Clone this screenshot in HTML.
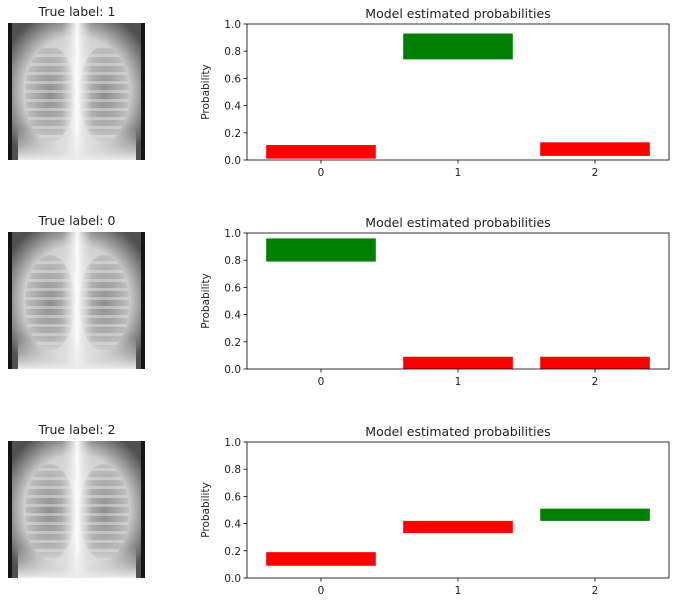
<!DOCTYPE html>
<html><head><meta charset="utf-8">
<style>
html,body{margin:0;padding:0;background:#fff;}
svg{display:block;font-family:"DejaVu Sans","Liberation Sans",sans-serif;}
</style></head>
<body>
<svg id="fig" width="675" height="602" viewBox="0 0 675 602" xmlns="http://www.w3.org/2000/svg">
<defs>
<radialGradient id="torso" cx="50%" cy="50%" r="62%">
<stop offset="0" stop-color="#f0f0f0"/><stop offset="0.65" stop-color="#d0d0d0"/><stop offset="1" stop-color="#505050"/>
</radialGradient>
<radialGradient id="lung" cx="50%" cy="50%" r="55%">
<stop offset="0" stop-color="#6a6a6a"/><stop offset="1" stop-color="#c0c0c0"/>
</radialGradient>
<linearGradient id="spine" x1="0" x2="1">
<stop offset="0" stop-color="#ddd" stop-opacity="0"/><stop offset="0.5" stop-color="#fafafa"/><stop offset="1" stop-color="#ddd" stop-opacity="0"/>
</linearGradient>
<linearGradient id="belly" x1="0" y1="0" x2="0" y2="1">
<stop offset="0" stop-color="#e8e8e8" stop-opacity="0"/><stop offset="1" stop-color="#ececec"/>
</linearGradient>
<pattern id="ribs" width="10" height="9" patternUnits="userSpaceOnUse">
<rect width="10" height="9" fill="none"/><rect y="0" width="10" height="3" fill="#e0e0e0" opacity="0.5"/>
</pattern>
</defs>
</svg>
<script>
const categories = [0, 1, 2];
const trueLabels = [1, 0, 2];
const barBottoms = [[0.01, 0.74, 0.03], [0.79, 0.0, 0.0], [0.09, 0.33, 0.42]];
const barTops = [[0.11, 0.93, 0.13], [0.96, 0.09, 0.09], [0.19, 0.42, 0.51]];
const yTicks = [0.0, 0.2, 0.4, 0.6, 0.8, 1.0];
const yTickLabels = ["0.0", "0.2", "0.4", "0.6", "0.8", "1.0"];

const NS = "http://www.w3.org/2000/svg";
const svg = document.getElementById('fig');
function mk(tag, attrs, parent) {
  const e = document.createElementNS(NS, tag);
  for (const k in attrs) e.setAttribute(k, attrs[k]);
  (parent || svg).appendChild(e);
  return e;
}
const rowTops = [24, 233, 442];
const axH = 136, axL = 247, axR = 669;
const xMin = -0.54, xMax = 2.54;

rowTops.forEach((top, r) => {
  const bottom = top + axH;
  const xs = v => axL + (v - xMin) / (xMax - xMin) * (axR - axL);
  const ys = v => bottom - v * axH;

  const img = mk('g', {});
  
  
  mk('rect', {x: 8, y: top - 1, width: 137, height: 137, fill: '#151515'}, img);
  mk('rect', {x: 12, y: top - 1, width: 129, height: 137, fill: 'url(#torso)'}, img);
  mk('ellipse', {cx: 50, cy: top + 70, rx: 25, ry: 48, fill: 'url(#lung)', opacity: 0.7}, img);
  mk('ellipse', {cx: 104, cy: top + 70, rx: 25, ry: 48, fill: 'url(#lung)', opacity: 0.7}, img);
  mk('ellipse', {cx: 50, cy: top + 70, rx: 25, ry: 48, fill: 'url(#ribs)'}, img);
  mk('ellipse', {cx: 104, cy: top + 70, rx: 25, ry: 48, fill: 'url(#ribs)'}, img);
  mk('rect', {x: 62, y: top - 1, width: 30, height: 137, fill: 'url(#spine)'}, img);
  mk('rect', {x: 18, y: top + 105, width: 118, height: 31, fill: 'url(#belly)'}, img);

  const t = mk('text', {x: 77, y: top - 8, 'text-anchor': 'middle', 'font-size': 12.5, fill: '#222'});
  t.textContent = 'True label: ' + trueLabels[r];
  
  

  const ct = mk('text', {x: (axL + axR) / 2, y: top - 6, 'text-anchor': 'middle', 'font-size': 12.5, fill: '#222'});
  ct.textContent = 'Model estimated probabilities';
  
  

  categories.forEach((c, i) => {
    const isTrue = c === trueLabels[r];
    const b = mk('rect', {
      x: xs(c - 0.4), y: ys(barTops[r][i]), width: xs(c + 0.4) - xs(c - 0.4),
      height: ys(barBottoms[r][i]) - ys(barTops[r][i]), fill: isTrue ? '#008000' : '#ff0000'
    });
    
    
  });

  const frame = mk('rect', {x: axL, y: top, width: axR - axL, height: axH, fill: 'none', stroke: '#000', 'stroke-width': 0.8});
  
  

  yTicks.forEach((v, i) => {
    mk('line', {x1: axL - 3.5, x2: axL, y1: ys(v), y2: ys(v), stroke: '#000', 'stroke-width': 0.8});
    const tl = mk('text', {x: axL - 6, y: ys(v) + 4, 'text-anchor': 'end', 'font-size': 10.5, fill: '#222'});
    tl.textContent = yTickLabels[i];
    
    
  });
  categories.forEach(c => {
    mk('line', {x1: xs(c), x2: xs(c), y1: bottom, y2: bottom + 3.5, stroke: '#000', 'stroke-width': 0.8});
    const tl = mk('text', {x: xs(c), y: bottom + 16, 'text-anchor': 'middle', 'font-size': 10.5, fill: '#222'});
    tl.textContent = String(c);
    
    
  });
  const yl = mk('text', {x: 0, y: 0, transform: 'translate(209,' + (top + axH / 2) + ') rotate(-90)', 'text-anchor': 'middle', 'font-size': 10.5, fill: '#222'});
  yl.textContent = 'Probability';
  
  
});
</script>
</body></html>
